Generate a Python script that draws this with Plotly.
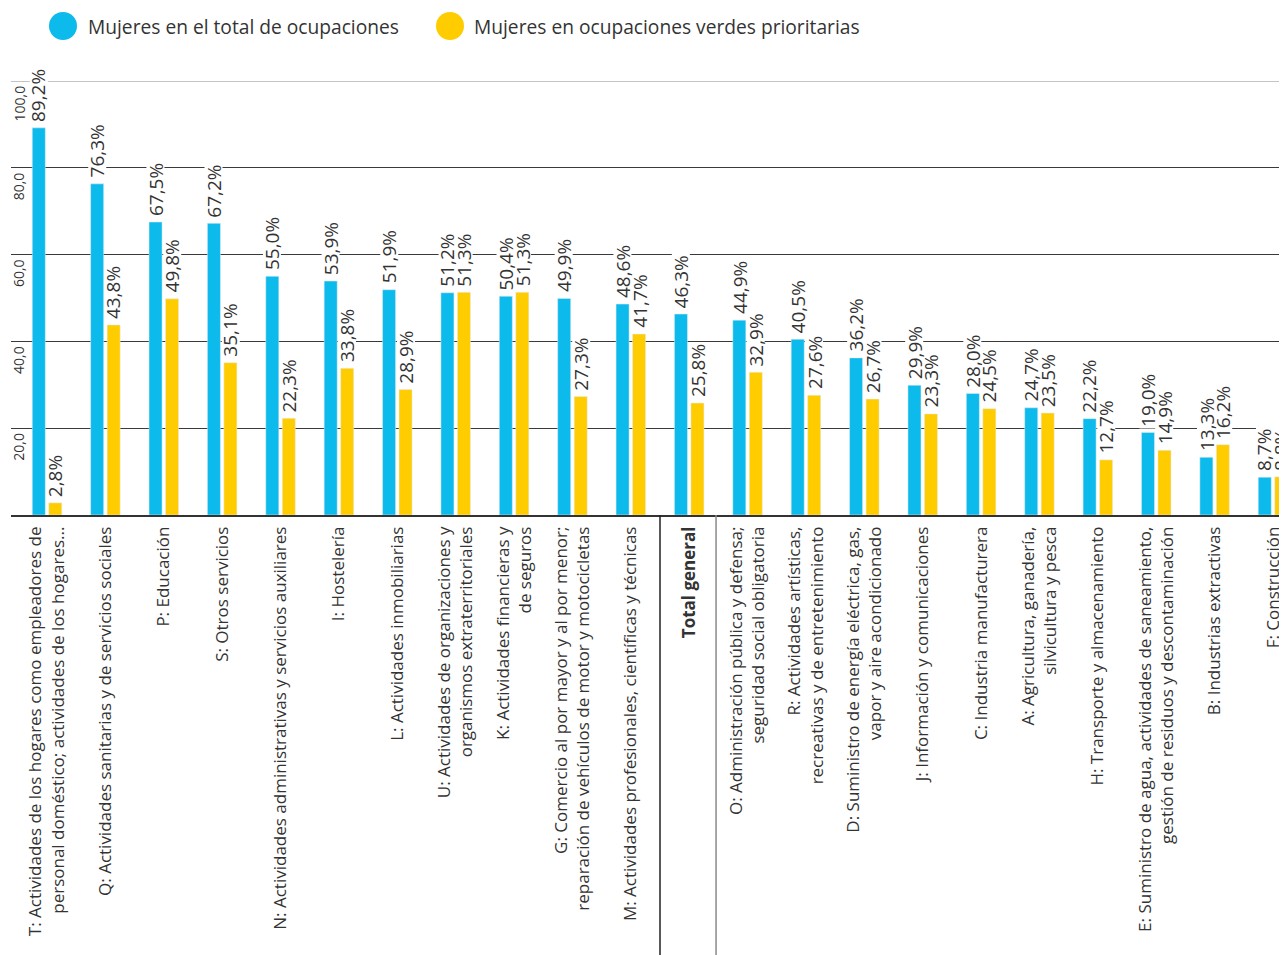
import plotly.graph_objects as go

# Categorías (sección CNAE) y porcentajes de mujeres
categorias = [
    "T: Actividades de los hogares como empleadores de<br>personal doméstico; actividades de los hogares...",
    "Q: Actividades sanitarias y de servicios sociales",
    "P: Educación",
    "S: Otros servicios",
    "N: Actividades administrativas y servicios auxiliares",
    "I: Hostelería",
    "L: Actividades inmobiliarias",
    "U: Actividades de organizaciones y<br>organismos extraterritoriales",
    "K: Actividades financieras y<br>de seguros",
    "G: Comercio al por mayor y al por menor;<br>reparación de vehículos de motor y motocicletas",
    "M: Actividades profesionales, científicas y técnicas",
    "<b>Total general</b>",
    "O: Administración pública y defensa;<br>seguridad social obligatoria",
    "R: Actividades artísticas,<br>recreativas y de entretenimiento",
    "D: Suministro de energía eléctrica, gas,<br>vapor y aire acondicionado",
    "J: Información y comunicaciones",
    "C: Industria manufacturera",
    "A: Agricultura, ganadería,<br>silvicultura y pesca",
    "H: Transporte y almacenamiento",
    "E: Suministro de agua, actividades de saneamiento,<br>gestión de residuos y descontaminación",
    "B: Industrias extractivas",
    "F: Construcción",
]
mujeres_total = [89.2, 76.3, 67.5, 67.2, 55.0, 53.9, 51.9, 51.2, 50.4, 49.9, 48.6,
                 46.3, 44.9, 40.5, 36.2, 29.9, 28.0, 24.7, 22.2, 19.0, 13.3, 8.7]
mujeres_verdes = [2.8, 43.8, 49.8, 35.1, 22.3, 33.8, 28.9, 51.3, 51.3, 27.3, 41.7,
                  25.8, 32.9, 27.6, 26.7, 23.3, 24.5, 23.5, 12.7, 14.9, 16.2, 8.8]
series = ["Mujeres en el total de ocupaciones", "Mujeres en ocupaciones verdes prioritarias"]
y_ticks = [20, 40, 60, 80, 100]
y_ticktext = ["20,0", "40,0", "60,0", "80,0", "100,0"]

AZUL = "#0CBAEC"
AMARILLO = "#FFCC00"
TEXTO = "#333333"
FONT = "Open Sans"

# la página añade 8 px de margen al cuerpo
W, H = 1279, 947
ML, MR, MT, MB = 3, 0, 73, 440
xrange = [-0.617, 21.24]


def fmt(v):
    return f"{v:.1f}%".replace(".", ",")


fig = go.Figure()
fig.add_trace(go.Bar(x=categorias, y=mujeres_total, name=series[0], marker_color=AZUL))
fig.add_trace(go.Bar(x=categorias, y=mujeres_verdes, name=series[1], marker_color=AMARILLO))

# etiquetas de valores: primero los fondos blancos (cortan la rejilla), luego los textos
fondos, textos = [], []
for vals, shift in [(mujeres_total, -8.3), (mujeres_verdes, 8.3)]:
    for cat, v in zip(categorias, vals):
        base = dict(
            x=cat, y=v, xref="x", yref="y", text=fmt(v), showarrow=False,
            textangle=-90, xanchor="center", yanchor="bottom", xshift=shift, yshift=4,
        )
        fondos.append(dict(base, bgcolor="white", height=15, borderpad=1,
                           font=dict(size=19, color="rgba(0,0,0,0)", family=FONT)))
        textos.append(dict(base, borderpad=1, font=dict(size=19, color=TEXTO, family=FONT)))
annotations = fondos + textos

# etiquetas del eje y, giradas y bajo cada línea
for v, t in zip(y_ticks, y_ticktext):
    annotations.append(dict(
        x=0, y=v, xref="paper", yref="y", text=t, showarrow=False, textangle=-90,
        xanchor="left", yanchor="top", xshift=-4, yshift=-3,
        font=dict(size=14, color=TEXTO, family=FONT),
    ))

# leyenda manual con círculos
shapes = []
plot_w = W - ML - MR
plot_h = H - MT - MB
leg_y = 1 + (MT - 18) / plot_h
for name, col, px_circle, px_text in [(series[0], AZUL, 55, 78), (series[1], AMARILLO, 442, 464)]:
    shapes.append(dict(
        type="circle", xref="paper", yref="paper", xsizemode="pixel", ysizemode="pixel",
        xanchor=(px_circle - ML) / plot_w, yanchor=leg_y,
        x0=-14, x1=14, y0=-14, y1=14, fillcolor=col, line_width=0,
    ))
    annotations.append(dict(
        x=(px_text - ML) / plot_w, y=leg_y, xref="paper", yref="paper",
        text=name, showarrow=False, xanchor="left", yanchor="middle",
        font=dict(size=19.2, color=TEXTO, family=FONT),
    ))

# línea superior (100) más clara
shapes.append(dict(type="line", xref="paper", yref="y", x0=0, x1=1, y0=100, y1=100,
                   line=dict(color="#8a8a8a", width=1.2), layer="below"))

# separadores de "Total general"
for xv, col in [(10.5, "#222222"), (11.46, "#8a8a8a")]:
    px = (xv - xrange[0]) / (xrange[1] - xrange[0])
    shapes.append(dict(type="line", xref="paper", yref="paper", x0=px, x1=px,
                       y0=0, y1=-MB / plot_h, line=dict(color=col, width=1.5)))

fig.update_layout(
    width=W, height=H,
    margin=dict(l=ML, r=MR, t=MT, b=MB),
    paper_bgcolor="white", plot_bgcolor="white",
    barmode="group", bargap=0.435, bargroupgap=0.21,
    showlegend=False,
    font=dict(family=FONT, color=TEXTO),
    annotations=annotations, shapes=shapes,
)
fig.update_xaxes(
    range=xrange, tickangle=-90, ticks="", showline=True, linecolor="#333333", linewidth=1.5,
    tickfont=dict(size=17, color=TEXTO, family=FONT), ticklabelstandoff=3,
)
fig.update_yaxes(
    range=[0, 100], tickvals=y_ticks[:-1], showticklabels=False, showgrid=True,
    gridcolor="#3a3a3a", gridwidth=1, zeroline=False,
)

fig.write_html("out.html")
